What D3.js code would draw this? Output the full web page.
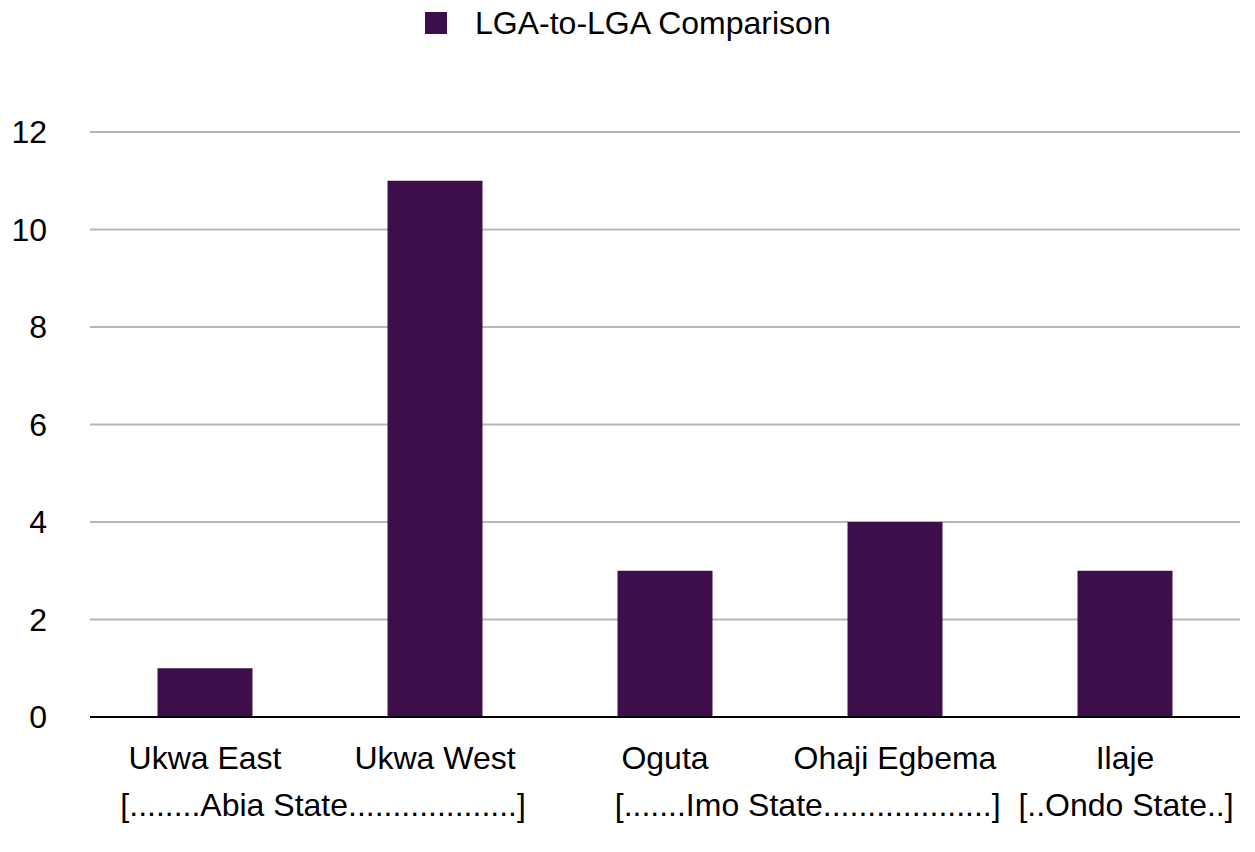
<!DOCTYPE html>
<meta charset="utf-8">
<html>
<head>
    <title>LGA-to-LGA Comparison</title>
    <script src="https://d3js.org/d3.v7.min.js"></script>
    <style>
        body { margin: 0; background: #fff; }
        text { font-family: "Liberation Sans", Arial, sans-serif; fill: #000; }
    </style>
</head>
<body>
<div id="chart"></div>
<script>
    /* chart data */
    var lgas = ["Ukwa East", "Ukwa West", "Oguta", "Ohaji Egbema", "Ilaje"];
    var counts = [1, 11, 3, 4, 3];
    var yTicks = [0, 2, 4, 6, 8, 10, 12];
    var axisTitle = "[........Abia State...................]          [.......Imo State...................]  [..Ondo State..]";
    var seriesName = "LGA-to-LGA Comparison";

    /* layout */
    var totalWidth = 1255, totalHeight = 852,
        margin = {top: 132, right: 15, bottom: 135, left: 90},
        width = totalWidth - margin.left - margin.right,
        height = totalHeight - margin.top - margin.bottom,
        barColor = "#3d0e4a",
        fontSize = 32;

    var svg = d3.select("#chart").append("svg")
        .attr("width", totalWidth)
        .attr("height", totalHeight);

    var g = svg.append("g")
        .attr("transform", "translate(" + margin.left + "," + margin.top + ")");

    var x = d3.scaleBand()
        .domain(lgas)
        .range([0, width])
        .paddingInner(0.587)
        .paddingOuter(0.2935);

    var y = d3.scaleLinear()
        .domain([0, 12])
        .range([height, 0]);

    /* grid lines */
    g.append("g").selectAll("line")
        .data(yTicks.filter(function(d){ return d > 0; }))
        .enter().append("line")
        .attr("x1", 0)
        .attr("x2", width)
        .attr("y1", function(d){ return y(d); })
        .attr("y2", function(d){ return y(d); })
        .style("stroke", "#b7b7b7")
        .style("stroke-width", 2);

    /* y tick labels */
    g.append("g").selectAll("text")
        .data(yTicks)
        .enter().append("text")
        .attr("x", -43)
        .attr("y", function(d){ return y(d); })
        .attr("dy", "0.35em")
        .attr("text-anchor", "end")
        .style("font-size", fontSize + "px")
        .text(function(d){ return d; });

    /* bars */
    g.append("g").selectAll("rect")
        .data(counts)
        .enter().append("rect")
        .attr("x", function(d, i){ return x(lgas[i]); })
        .attr("y", function(d){ return y(d); })
        .attr("width", x.bandwidth())
        .attr("height", function(d){ return height - y(d); })
        .style("fill", barColor);

    /* baseline */
    g.append("line")
        .attr("x1", 0)
        .attr("x2", width)
        .attr("y1", y(0))
        .attr("y2", y(0))
        .style("stroke", "#000")
        .style("stroke-width", 2);

    /* category labels */
    g.append("g").selectAll("text")
        .data(lgas)
        .enter().append("text")
        .attr("x", function(d){ return x(d) + x.bandwidth() / 2; })
        .attr("y", height + 41)
        .attr("dy", "0.35em")
        .attr("text-anchor", "middle")
        .style("font-size", fontSize + "px")
        .text(function(d){ return d; });

    /* x axis title (state groups) */
    g.append("text")
        .attr("x", width / 2 + 12)
        .attr("y", height + 88)
        .attr("dy", "0.35em")
        .attr("text-anchor", "middle")
        .style("font-size", fontSize + "px")
        .style("white-space", "pre")
        .text(axisTitle);

    /* legend */
    var legend = svg.append("g").attr("transform", "translate(425,12)");
    legend.append("rect")
        .attr("width", 22)
        .attr("height", 22)
        .style("fill", barColor);
    legend.append("text")
        .attr("x", 50)
        .attr("y", 11)
        .attr("dy", "0.35em")
        .style("font-size", fontSize + "px")
        .text(seriesName);
</script>
</body>
</html>
